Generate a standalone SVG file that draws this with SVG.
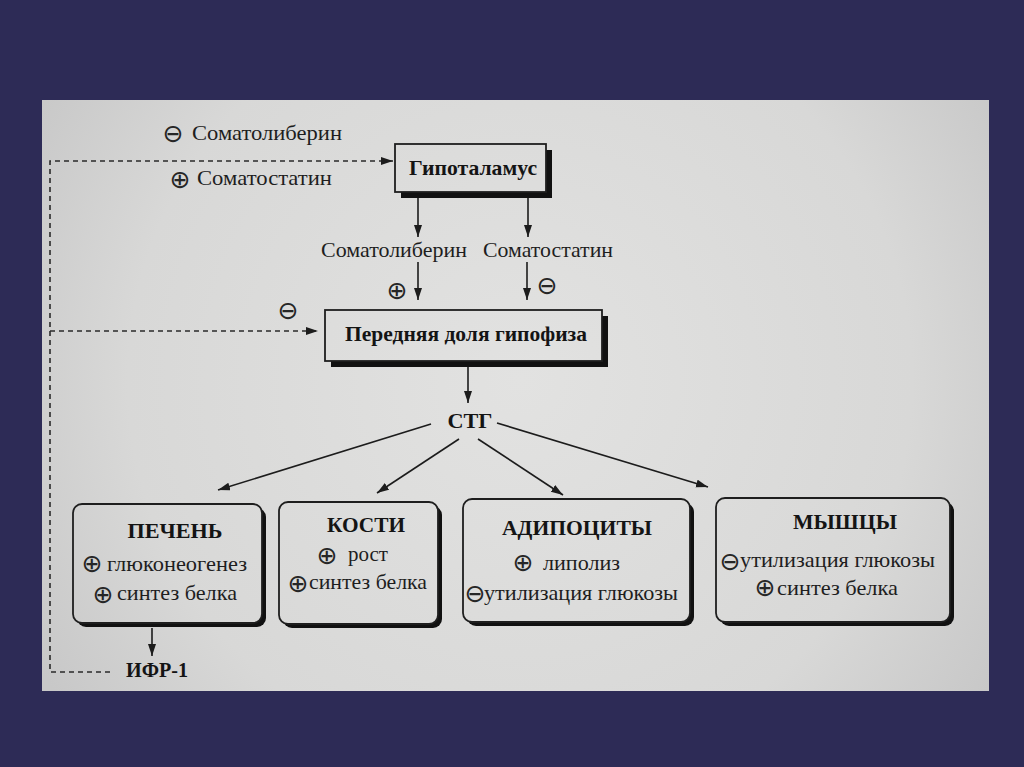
<svg xmlns="http://www.w3.org/2000/svg" width="1024" height="767" viewBox="0 0 1024 767">
<defs>
<radialGradient id="paper" gradientUnits="userSpaceOnUse" cx="520" cy="380" r="560">
<stop offset="0" stop-color="#e2e2e1"/>
<stop offset="0.7" stop-color="#d8d8d7"/>
<stop offset="1" stop-color="#c8c8c8"/>
</radialGradient>
<marker id="ah" markerUnits="userSpaceOnUse" markerWidth="13" markerHeight="9" refX="12" refY="4" orient="auto">
<path d="M0,0 L12,4 L0,8 Z" fill="#1c1c1c"/>
</marker>
<style>
.t{font-family:"Liberation Serif","Times New Roman",serif;font-size:22px;fill:#1e1e1e}
.b{font-family:"Liberation Serif","Times New Roman",serif;font-size:22px;font-weight:bold;fill:#141414}
.s{font-family:"DejaVu Sans",sans-serif;font-size:25px;fill:#262626;text-anchor:middle}
.c{text-anchor:middle}
.box{fill:url(#paper);stroke:#1e1e1e;stroke-width:1.8}
.sh{fill:#111}
.ln{stroke:#1c1c1c;stroke-width:1.6;fill:none;marker-end:url(#ah)}
.dl{stroke:#2a2a2a;stroke-width:1.6;fill:none;stroke-dasharray:5 4}
</style>
</defs>
<rect width="1024" height="767" fill="#2d2b56"/>
<rect x="42" y="100" width="947" height="591" fill="url(#paper)"/>

<g id="connectors">
<path class="dl" d="M110,672 H50 V161 H393" marker-end="url(#ah)"/>
<path class="dl" d="M50,331 H318" marker-end="url(#ah)"/>
<line class="ln" x1="418" y1="192" x2="418" y2="237"/>
<line class="ln" x1="528" y1="192" x2="528" y2="237"/>
<line class="ln" x1="418" y1="262" x2="418" y2="300"/>
<line class="ln" x1="527" y1="262" x2="527" y2="300"/>
<line class="ln" x1="468" y1="367" x2="468" y2="403"/>
<line class="ln" x1="431" y1="424" x2="218" y2="490"/>
<line class="ln" x1="459" y1="439" x2="377" y2="493"/>
<line class="ln" x1="478" y1="439" x2="563" y2="495"/>
<line class="ln" x1="497" y1="423" x2="708" y2="487"/>
<line class="ln" x1="152" y1="628" x2="152" y2="656"/>
</g>

<g id="feedback-labels">
<text class="s" x="173" y="142">⊖</text>
<text class="t" x="192" y="140" textLength="150" lengthAdjust="spacingAndGlyphs">Соматолиберин</text>
<text class="s" x="180" y="188">⊕</text>
<text class="t" x="197" y="185" textLength="135" lengthAdjust="spacingAndGlyphs">Соматостатин</text>
<text class="s" x="288" y="319">⊖</text>
</g>

<g id="hypothalamus">
<rect class="sh" x="401" y="150" width="151" height="48"/>
<rect class="box" x="395" y="144" width="151" height="48"/>
<text class="b c" x="473" y="175" textLength="128" lengthAdjust="spacingAndGlyphs">Гипоталамус</text>
</g>

<g id="hormone-labels">
<text class="t" x="321" y="257" textLength="146" lengthAdjust="spacingAndGlyphs">Соматолиберин</text>
<text class="t" x="483" y="257" textLength="130" lengthAdjust="spacingAndGlyphs">Соматостатин</text>
<text class="s" x="397" y="299">⊕</text>
<text class="s" x="547" y="294">⊖</text>
</g>

<g id="pituitary">
<rect class="sh" x="331" y="316" width="277" height="51"/>
<rect class="box" x="325" y="310" width="277" height="51"/>
<text class="b c" x="466" y="341" textLength="242" lengthAdjust="spacingAndGlyphs">Передняя доля гипофиза</text>
</g>

<g id="stg">
<text class="b c" x="470" y="428" textLength="45" lengthAdjust="spacingAndGlyphs">СТГ</text>
</g>

<g id="liver">
<rect class="sh" x="77" y="508" width="189" height="119" rx="9"/>
<rect class="box" x="73" y="504" width="189" height="119" rx="9"/>
<text class="b c" x="175" y="538" textLength="95" lengthAdjust="spacingAndGlyphs">ПЕЧЕНЬ</text>
<text class="s" x="92" y="572">⊕</text>
<text class="t" x="107" y="571" textLength="140" lengthAdjust="spacingAndGlyphs">глюконеогенез</text>
<text class="s" x="103" y="603">⊕</text>
<text class="t" x="117" y="600" textLength="120" lengthAdjust="spacingAndGlyphs">синтез белка</text>
</g>

<g id="bones">
<rect class="sh" x="283" y="506" width="159" height="122" rx="9"/>
<rect class="box" x="279" y="502" width="159" height="122" rx="9"/>
<text class="b c" x="366" y="532" textLength="78" lengthAdjust="spacingAndGlyphs">КОСТИ</text>
<text class="s" x="327" y="564">⊕</text>
<text class="t" x="348" y="561" textLength="40" lengthAdjust="spacingAndGlyphs">рост</text>
<text class="s" x="298" y="592">⊕</text>
<text class="t" x="309" y="589" textLength="118" lengthAdjust="spacingAndGlyphs">синтез белка</text>
</g>

<g id="adipocytes">
<rect class="sh" x="467" y="503" width="227" height="123" rx="9"/>
<rect class="box" x="463" y="499" width="227" height="123" rx="9"/>
<text class="b c" x="577" y="535" textLength="150" lengthAdjust="spacingAndGlyphs">АДИПОЦИТЫ</text>
<text class="s" x="523" y="571">⊕</text>
<text class="t" x="543" y="570" textLength="77" lengthAdjust="spacingAndGlyphs">липолиз</text>
<text class="s" x="475" y="602">⊖</text>
<text class="t" x="484" y="600" textLength="194" lengthAdjust="spacingAndGlyphs">утилизация глюкозы</text>
</g>

<g id="muscles">
<rect class="sh" x="720" y="502" width="234" height="124" rx="9"/>
<rect class="box" x="716" y="498" width="234" height="124" rx="9"/>
<text class="b c" x="845" y="529" textLength="104" lengthAdjust="spacingAndGlyphs">МЫШЦЫ</text>
<text class="s" x="730" y="570">⊖</text>
<text class="t" x="740" y="567" textLength="195" lengthAdjust="spacingAndGlyphs">утилизация глюкозы</text>
<text class="s" x="765" y="596">⊕</text>
<text class="t" x="777" y="595" textLength="121" lengthAdjust="spacingAndGlyphs">синтез белка</text>
</g>

<g id="igf1">
<text class="b" x="126" y="677" textLength="62" lengthAdjust="spacingAndGlyphs">ИФР-1</text>
</g>
</svg>
